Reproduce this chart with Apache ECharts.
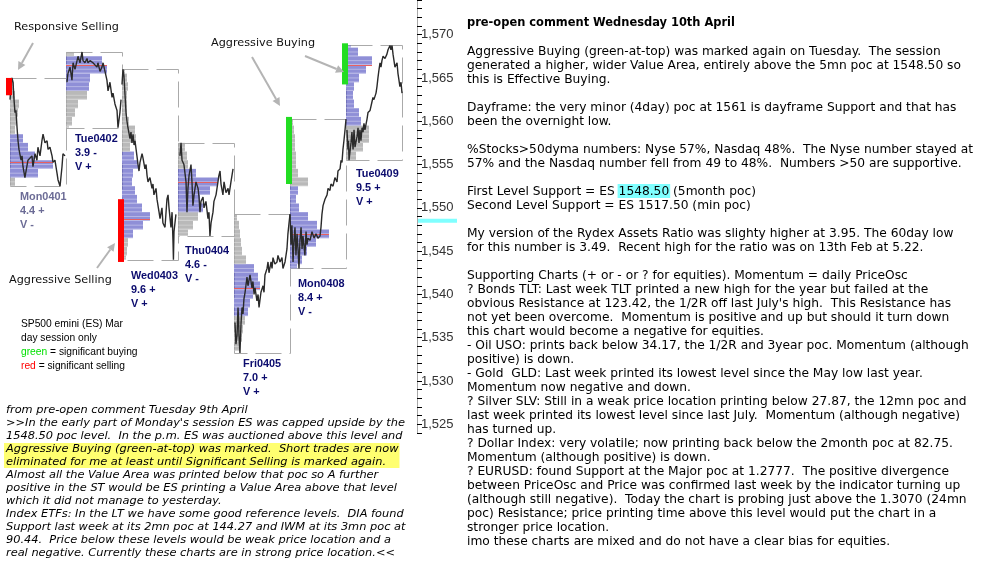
<!DOCTYPE html>
<html><head><meta charset="utf-8">
<script src="https://cdn.jsdelivr.net/npm/echarts@6/dist/echarts.min.js"></script>
<style>html,body{margin:0;padding:0;background:#fff}#c{width:996px;height:576px}</style>
</head><body><div id="c"></div>
<script>
// ================= DATA =================
const dayLabels = ['Mon0401','Tue0402','Wed0403','Thu0404','Fri0405','Mon0408','Tue0409'];
const dayRangeStat = ['4.4 +','3.9 -','9.6 +','4.6 -','7.0 +','8.4 +','9.5 +'];
const dayVolStat = ['V -','V +','V +','V -','V +','V -','V +'];
const sessionMinutes = 405;

// [minute of day session, ES price]
const priceMon0401 = [[0,1562.5],[7,1564],[14,1565],[22,1564.5],[29,1562.5],[36,1561],[43,1561.25],[51,1559.25],[58,1557.75],[65,1556.75],[80,1555.5],[87,1556],[94,1554.75],[108,1553.5],[116,1554.25],[130,1555.5],[159,1556],[166,1554.75],[181,1556.25],[195,1555.5],[202,1557],[217,1556],[231,1557.75],[239,1558.5],[253,1557.5],[268,1557.75],[275,1556.75],[289,1557],[304,1556],[311,1555.25],[325,1555.5],[340,1554],[347,1553.25],[362,1552.5],[376,1554.75],[383,1556.25],[398,1556]];
const priceTue0402 = [[7,1564.5],[14,1565.5],[29,1566.25],[43,1564.75],[51,1566.75],[65,1566],[80,1567],[87,1567.5],[101,1566.75],[116,1568],[123,1567],[137,1566.75],[152,1567.25],[159,1566.75],[174,1567],[195,1566.75],[224,1566.25],[231,1566.75],[246,1565.75],[260,1566.25],[268,1566.75],[282,1565.75],[296,1564.75],[304,1563.5],[318,1564.5],[333,1562.75],[340,1563.25],[354,1562],[369,1561.25],[376,1559.25],[390,1561],[398,1562.5]];
const priceWed0403 = [[0,1564.25],[7,1566],[14,1565.25],[22,1563],[29,1561],[36,1560],[43,1559.25],[58,1558],[65,1558.75],[72,1557.5],[80,1558.5],[87,1557.25],[94,1557.75],[108,1556],[116,1555],[123,1554.25],[130,1555.25],[145,1556.25],[152,1555.75],[166,1554.5],[174,1555],[181,1553.75],[188,1553],[202,1553.5],[217,1552.25],[224,1552.75],[231,1551.5],[246,1552.25],[253,1551],[268,1549.5],[275,1548.75],[289,1550],[296,1548.25],[311,1547.75],[325,1551],[333,1551.5],[340,1550],[354,1547.75],[362,1549.5],[369,1546],[372,1544],[376,1547.25],[383,1548.25],[390,1549.25]];
const priceThu0404 = [[14,1556],[22,1557.5],[29,1555.5],[43,1555],[58,1553],[65,1549.5],[72,1552.25],[80,1553.75],[94,1555],[101,1553],[108,1550.25],[116,1551.5],[130,1553],[145,1552.25],[152,1551.25],[159,1549.5],[166,1550.75],[181,1551.25],[188,1550],[202,1550.75],[217,1548.75],[224,1549.5],[231,1546.75],[239,1548.25],[253,1549.5],[260,1550.75],[275,1551.5],[289,1553],[296,1553.75],[304,1554.25],[311,1552.75],[325,1551.5],[333,1553],[347,1551.75],[362,1552.25],[369,1551.5],[383,1553],[398,1554.5]];
const priceFri0405 = [[7,1536.75],[14,1534.25],[22,1535.25],[29,1538.5],[33,1537.25],[36,1535.25],[43,1533.25],[51,1536.75],[58,1538.5],[65,1537.75],[72,1539.5],[80,1540.25],[94,1542],[101,1541],[116,1542.25],[130,1540.75],[137,1541.5],[145,1540],[152,1540.75],[166,1539.25],[174,1540],[181,1538.5],[195,1540.25],[210,1541],[217,1540.25],[224,1542.25],[239,1543],[246,1543.75],[253,1542.5],[268,1543.75],[275,1543],[282,1544.25],[296,1543.5],[311,1543.75],[318,1544.5],[333,1543.75],[347,1544.25],[354,1543],[369,1543.75],[383,1545.25],[390,1547],[398,1548.25],[405,1549.25]];
const priceMon0408 = [[0,1549.25],[7,1545.75],[14,1548],[22,1543.75],[29,1546.25],[36,1547.75],[43,1544.5],[51,1547],[58,1545.25],[65,1543],[72,1546.25],[80,1547.75],[87,1545.25],[94,1546.75],[108,1544.5],[116,1547.25],[123,1545.75],[130,1546.5],[145,1546.25],[159,1547.25],[174,1546.5],[188,1547],[202,1546.5],[217,1546.75],[224,1547.75],[231,1549.25],[239,1550.25],[253,1551],[268,1551.5],[275,1552.25],[289,1552],[296,1552.75],[311,1552.5],[325,1553.5],[340,1553],[347,1554.25],[362,1554.5],[369,1555.5],[376,1555.25],[383,1556.75],[390,1557.75],[398,1559],[405,1560.25]];
const priceTue0409 = [[7,1559],[14,1556.75],[18,1557.75],[22,1555.5],[36,1557.5],[43,1558.75],[51,1556.75],[54,1557.75],[58,1559],[65,1557],[80,1558.25],[87,1559.25],[94,1557.5],[101,1559],[108,1557.75],[116,1559.25],[123,1558.75],[130,1559.75],[137,1559],[152,1560.25],[159,1561],[174,1561.25],[188,1562.25],[195,1562.75],[202,1562.5],[217,1563.25],[224,1564],[231,1565],[239,1566],[246,1566.75],[253,1566.25],[260,1567],[268,1567.5],[282,1567.25],[296,1567.75],[304,1568.25],[318,1568.75],[325,1568.25],[333,1568.75],[340,1567.75],[347,1567],[354,1566.25],[369,1566.75],[376,1565.5],[383,1564.75],[390,1564],[398,1564.5],[405,1563.25]];

// volume profile: lowest 1-point bin price per day, then relative volume per bin (low -> high)
const profileStart = [1553, 1559, 1544, 1547, 1534, 1543, 1556];
const profileMon0401 = [5,28,43,25,18,13,5,6,8,9,5,4,3];
const profileTue0402 = [3,6,9,12,21,23,24,41,36,8];
const profileWed0403 = [4,5,6,11,21,28,20,15,13,10,11,16,12,8,14,13,7,5,5,5,6,5,3];
const profileThu0404 = [10,15,20,25,22,32,40,18,10,9,7];
const profileFri0405 = [6,8,9,11,14,16,19,26,24,20,12,8,7,6,5,3];
const profileMon0408 = [7,12,17,26,39,27,18,9,6,8,18,8,6,6,5,5,4,3];
const profileTue0409 = [10,17,23,23,15,13,8,7,8,13,20,26,12,5];
const valueAreaLow  = [1554, 1564, 1547, 1550, 1538, 1543, 1560];
const valueAreaHigh = [1558, 1567, 1556, 1554, 1543, 1552, 1569];
const pocPrice = [1555.25, 1566.5, 1548.75, 1553, 1540.75, 1547, 1566.5];

// significant buying / selling marks
const signalDay  = [0, 2, 5, 6];
const signalKind = ['sell', 'sell', 'buy', 'buy'];
const signalHigh = [1565, 1551, 1560.5, 1569];
const signalLow  = [1563, 1543.75, 1552.75, 1564.25];

const yMin = 1524, yMax = 1574;
const yLabelValues = [1525,1530,1535,1540,1545,1550,1555,1560,1565,1570];
const supportLevel = 1548.5;

const rightText = [
'pre-open comment Wednesday 10th April',
'',
'Aggressive Buying (green-at-top) was marked again on Tuesday.  The session',
'generated a higher, wider Value Area, entirely above the 5mn poc at 1548.50 so',
'this is Effective Buying.',
'',
'Dayframe: the very minor (4day) poc at 1561 is dayframe Support and that has',
'been the overnight low.',
'',
'%Stocks>50dyma numbers: Nyse 57%, Nasdaq 48%.  The Nyse number stayed at',
'57% and the Nasdaq number fell from 49 to 48%.  Numbers >50 are supportive.',
'',
'First Level Support = ES 1548.50 (5month poc)',
'Second Level Support = ES 1517.50 (min poc)',
'',
'My version of the Rydex Assets Ratio was slighty higher at 3.95. The 60day low',
'for this number is 3.49.  Recent high for the ratio was on 13th Feb at 5.22.',
'',
'Supporting Charts (+ or - or ? for equities). Momentum = daily PriceOsc',
'? Bonds TLT: Last week TLT printed a new high for the year but failed at the',
"obvious Resistance at 123.42, the 1/2R off last July's high.  This Resistance has",
'not yet been overcome.  Momentum is positive and up but should it turn down',
'this chart would become a negative for equities.',
'- Oil USO: prints back below 34.17, the 1/2R and 3year poc. Momentum (although',
'positive) is down.',
'- Gold  GLD: Last week printed its lowest level since the May low last year.',
'Momentum now negative and down.',
'? Silver SLV: Still in a weak price location printing below 27.87, the 12mn poc and',
'last week printed its lowest level since last July.  Momentum (although negative)',
'has turned up.',
'? Dollar Index: very volatile; now printing back below the 2month poc at 82.75.',
'Momentum (although positive) is down.',
'? EURUSD: found Support at the Major poc at 1.2777.  The positive divergence',
'between PriceOsc and Price was confirmed last week by the indicator turning up',
'(although still negative).  Today the chart is probing just above the 1.3070 (24mn',
'poc) Resistance; price printing time above this level would put the chart in a',
'stronger price location.',
'imo these charts are mixed and do not have a clear bias for equities.'
];
const leftText = [
'from pre-open comment Tuesday 9th April',
">>In the early part of Monday's session ES was capped upside by the",
'1548.50 poc level.  In the p.m. ES was auctioned above this level and',
'Aggressive Buying (green-at-top) was marked.  Short trades are now',
'eliminated for me at least until Significant Selling is marked again.',
'Almost all the Value Area was printed below that poc so A further',
'positive in the ST would be ES printing a Value Area above that level',
'which it did not manage to yesterday.',
'Index ETFs: In the LT we have some good reference levels.  DIA found',
'Support last week at its 2mn poc at 144.27 and IWM at its 3mn poc at',
'90.44.  Price below these levels would be weak price location and a',
'real negative. Currently these charts are in strong price location.<<'
];
const highlightedLeftLines = [3, 4];
const annotations = ['Responsive Selling', 'Aggressive Buying', 'Aggressive Selling'];
const legendLines = ['SP500 emini (ES) Mar', 'day session only', '{g|green} = significant buying', '{r|red} = significant selling'];

// ================= BUILD =================
const days = [priceMon0401, priceTue0402, priceWed0403, priceThu0404, priceFri0405, priceMon0408, priceTue0409];
const profiles = [profileMon0401, profileTue0402, profileWed0403, profileThu0404, profileFri0405, profileMon0408, profileTue0409];
const dayHigh = days.map(s => Math.max(...s.map(p => p[1])));
const dayLow = days.map(s => Math.min(...s.map(p => p[1])));
const DAY_PX = 56;            // horizontal pixels per session
const UNIT = 1 / DAY_PX;      // one volume unit drawn as one pixel

const boxData = days.map((s, i) => [i, dayHigh[i], dayLow[i]]);
const profData = [];
profiles.forEach((arr, i) => arr.forEach((c, k) => {
  const p = profileStart[i] + k;
  profData.push([i, p, c, (p >= valueAreaLow[i] && p <= valueAreaHigh[i]) ? 1 : 0, dayLow[i], dayHigh[i]]);
}));
const pocData = pocPrice.map((p, i) => [i, p, Math.max(...profiles[i])]);
const sigData = signalDay.map((d, k) => [d, signalHigh[k], signalLow[k], signalKind[k] === 'buy' ? 1 : 0]);

const mctx = document.createElement('canvas').getContext('2d');
function measure(text, font) { mctx.font = font; return mctx.measureText(text).width; }
function fit(text, fam, pre, target) { return 20 * target / measure(text, pre + ' 20px ' + fam); }

const FR = '"DejaVu Sans"';
const rSize = fit(rightText[3], FR, '', 494);
const tSize = fit(rightText[0], FR, 'bold', 268);
const lSize = fit(leftText[1], FR, 'italic', 399);
const aSize = fit(annotations[0], FR, '', 105);
const FL = '"Liberation Sans"';
const gSize = fit('SP500 emini (ES) Mar', FL, '', 102);
const dSize = fit('Wed0403', FL, 'bold', 47);

const graphics = [];
// left highlight
const lFont = 'italic ' + lSize.toFixed(2) + 'px ' + FR;
const hlW = Math.max(...highlightedLeftLines.map(i => measure(leftText[i], lFont)));
graphics.push({type: 'rect', shape: {x: 4, y: 443, width: hlW + 3, height: 25}, style: {fill: '#ffff70'}, z: 0});
leftText.forEach((t, i) => graphics.push({type: 'text', x: 6, y: 410 + 13 * i, style: {text: t, font: lFont, fill: '#000', verticalAlign: 'middle', textVerticalAlign: 'middle'}, z: 2}));
// right text
const rFont = rSize.toFixed(2) + 'px ' + FR;
const pre = 'First Level Support = ES ';
const preW = measure(pre, rFont), numW = measure('1548.50', rFont);
graphics.push({type: 'rect', shape: {x: 467 + preW - 1, y: 184, width: numW + 2, height: 14}, style: {fill: '#80ffff'}, z: 0});
rightText.forEach((t, i) => {
  if (!t) return;
  graphics.push({type: 'text', x: 467, y: 23.5 + 14 * i, style: {text: t, font: i === 0 ? 'bold ' + tSize.toFixed(2) + 'px ' + FR : rFont, fill: '#000', verticalAlign: 'middle', textVerticalAlign: 'middle'}, z: 2});
});
// annotations
const aFont = aSize.toFixed(2) + 'px ' + FR;
[[14, 27], [211, 43], [9, 280]].forEach((p, i) => graphics.push({type: 'text', x: p[0], y: p[1], style: {text: annotations[i], font: aFont, fill: '#111', verticalAlign: 'middle', textVerticalAlign: 'middle'}, z: 10}));
function arrow(x1, y1, x2, y2) {
  const ang = Math.atan2(y2 - y1, x2 - x1), L = 8, W = 4;
  const bx = x2 - L * Math.cos(ang), by = y2 - L * Math.sin(ang);
  graphics.push({type: 'line', shape: {x1, y1, x2: bx, y2: by}, style: {stroke: '#b4b4b4', lineWidth: 2}, z: 10});
  graphics.push({type: 'polygon', shape: {points: [[x2, y2], [bx + W * Math.sin(ang), by - W * Math.cos(ang)], [bx - W * Math.sin(ang), by + W * Math.cos(ang)]]}, style: {fill: '#b4b4b4'}, z: 10});
}
arrow(33, 43, 18, 70); arrow(252, 57, 280, 106); arrow(305, 56, 344, 72); arrow(97, 268, 115, 243);
// legend
const gFont = gSize.toFixed(2) + 'px ' + FL;
legendLines.forEach((t, i) => graphics.push({type: 'text', x: 21, y: 324 + 14 * i, style: {text: t, font: gFont, fill: '#000', verticalAlign: 'middle', textVerticalAlign: 'middle', rich: {g: {fill: '#00e000', font: gFont}, r: {fill: '#ff0000', font: gFont}}}, z: 10}));
// day labels
const labelPos = [[20, 197], [75, 139], [131, 276], [185, 251], [243, 364], [298, 284], [356, 174]];
const dFont = 'bold ' + dSize.toFixed(2) + 'px ' + FL;
labelPos.forEach((p, i) => {
  const col = i === 0 ? '#6c6c96' : '#0c0c6e';
  [dayLabels[i], dayRangeStat[i], dayVolStat[i]].forEach((t, k) => graphics.push({type: 'text', x: p[0], y: p[1] + 14 * k, style: {text: t, font: dFont, fill: col, verticalAlign: 'middle', textVerticalAlign: 'middle'}, z: 10}));
});

const yTickValues = [];
for (let v = yMin; v <= yMax; v++) yTickValues.push(v);

const priceSeries = days.map((s, i) => ({
  type: 'line', data: s.map(p => [i + p[0] / sessionMinutes, p[1]]), showSymbol: false, symbol: 'none',
  lineStyle: {color: '#2a2a2a', width: 1.4}, z: 6, silent: true
}));

const option = {
  animation: false,
  grid: {left: 0, right: 579, top: 0, bottom: 143, containLabel: false},
  xAxis: {type: 'value', min: -10 / DAY_PX, max: 407 / DAY_PX, show: false},
  yAxis: {
    type: 'value', position: 'right', min: yMin, max: yMax, splitLine: {show: false},
    axisLine: {show: true, onZero: false, lineStyle: {color: '#a8a8a8', width: 1}},
    axisTick: {show: true, customValues: yTickValues, length: 5, lineStyle: {color: '#000'}},
    axisLabel: {customValues: yLabelValues, color: '#333', fontFamily: FL, fontSize: 13, margin: 4,
      formatter: v => String(v).replace(/\B(?=(\d{3})+(?!\d))/g, ',')}
  },
  series: [
    {type: 'custom', data: boxData, z: 1, silent: true, clip: false,
      renderItem: (p, api) => {
        const a = api.coord([api.value(0), api.value(1)]), b = api.coord([api.value(0) + 1, api.value(2)]);
        return {type: 'rect', shape: {x: Math.round(a[0]) + 0.5, y: Math.round(a[1]) + 0.5, width: Math.round(b[0] - a[0]), height: Math.round(b[1] - a[1])},
          style: {fill: 'none', stroke: '#aaaaaa', lineWidth: 1, lineDash: [26, 8]}};
      }},
    {type: 'custom', data: profData, z: 2, silent: true, clip: false,
      renderItem: (p, api) => {
        const d = api.value(0), pr = api.value(1), c = api.value(2), va = api.value(3), lo = api.value(4), hi = api.value(5);
        const top = Math.min(pr + 0.5, hi), bot = Math.max(pr - 0.5, lo);
        const a = api.coord([d, top]), b = api.coord([d + c * UNIT, bot]);
        const h = Math.max(0, b[1] - a[1]), w = b[0] - a[0];
        const fill = va ? 'rgba(85,85,195,0.66)' : 'rgba(165,165,165,0.78)';
        const stripe = va ? 'rgba(255,255,255,0.35)' : 'rgba(255,255,255,0.3)';
        return {type: 'group', children: [
          {type: 'rect', shape: {x: a[0], y: a[1], width: w, height: h}, style: {fill}},
          {type: 'rect', shape: {x: a[0], y: a[1] + h / 2 - 0.5, width: w, height: 1}, style: {fill: stripe}},
          {type: 'rect', shape: {x: a[0], y: a[1] + h - 1, width: w, height: 1}, style: {fill: stripe}}
        ]};
      }},
    {type: 'custom', data: pocData, z: 3, silent: true, clip: false,
      renderItem: (p, api) => {
        const a = api.coord([api.value(0), api.value(1)]), b = api.coord([api.value(0) + api.value(2) * UNIT, api.value(1)]);
        return {type: 'line', shape: {x1: a[0], y1: Math.round(a[1]) + 0.5, x2: b[0], y2: Math.round(a[1]) + 0.5}, style: {stroke: '#e86060', lineWidth: 1}};
      }},
    {type: 'custom', data: sigData, z: 7, silent: true, clip: false,
      renderItem: (p, api) => {
        const a = api.coord([api.value(0), api.value(1)]), b = api.coord([api.value(0), api.value(2)]);
        return {type: 'rect', shape: {x: a[0] - 4, y: a[1], width: 6, height: b[1] - a[1]}, style: {fill: api.value(3) ? '#22dd22' : '#ff0000'}};
      }},
    ...priceSeries
  ],
  graphic: graphics
};

const chart = echarts.init(document.getElementById('c'), null, {width: 996, height: 576});
chart.setOption(option);
const sy = chart.convertToPixel({yAxisIndex: 0}, supportLevel);
graphics.push({type: 'rect', shape: {x: 418, y: sy - 2, width: 39, height: 4}, style: {fill: '#80ffff'}, z: 10});
chart.setOption({graphic: graphics});
</script></body></html>
